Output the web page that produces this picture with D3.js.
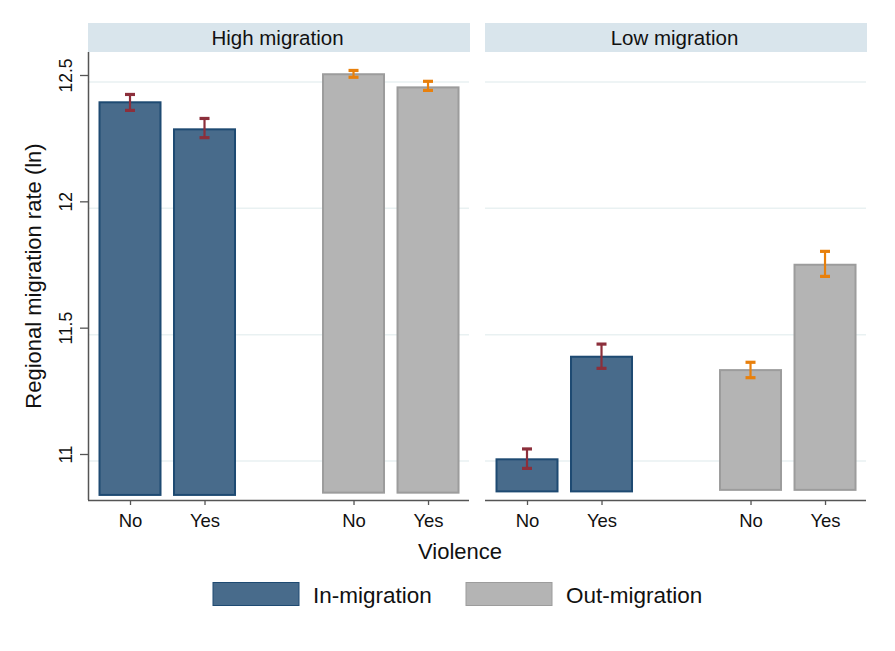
<!DOCTYPE html>
<html>
<head>
<meta charset="utf-8">
<script src="https://cdn.jsdelivr.net/npm/d3@7"></script>
<style>
  html, body { margin: 0; padding: 0; background: #ffffff; }
  svg { display: block; font-family: "Liberation Sans", Arial, Helvetica, sans-serif; }
</style>
</head>
<body>
<svg id="chart" width="895" height="651"></svg>
<script>
// Regional migration rate (ln) by violence, split by migration regime.
const panels = ["High migration", "Low migration"];
const violence = ["No", "Yes"];
const seriesNames = ["In-migration", "Out-migration"];

// Means and 95% CI bounds, ordered [High/No, High/Yes, Low/No, Low/Yes]
const inMean  = [12.392, 12.285, 10.979, 11.385];
const inLo    = [12.360, 12.252, 10.943, 11.339];
const inHi    = [12.423, 12.328, 11.020, 11.435];
const outMean = [12.503, 12.451, 11.332, 11.749];
const outLo   = [12.491, 12.439, 11.302, 11.703];
const outHi   = [12.518, 12.475, 11.363, 11.802];

// Bar baselines per panel [High, Low]
const inBase  = [10.838, 10.852];
const outBase = [10.847, 10.858];

const yTicks = [11, 11.5, 12, 12.5];
const yTickLabels = ["11", "11.5", "12", "12.5"];
const xAxisTitle = "Violence";
const yAxisTitle = "Regional migration rate (ln)";

// ---- layout ----
const svg = d3.select("#chart");
const panelX = [[88, 469], [485, 866]];
const plotTop = 52, plotBottom = 500;
const stripTop = 23, stripBottom = 52;
const barWidth = 61;
const gridShift = 7;

const colors = {
  inFill: "#486b8b", inStroke: "#1e4a72", inErr: "#8c2f3b",
  outFill: "#b4b4b4", outStroke: "#9c9c9c", outErr: "#e8800c",
  strip: "#d9e5ec", grid: "#e9f1f2", axis: "#555555", text: "#111111"
};

const y = d3.scaleLinear().domain([11, 12.5]).range([454, 75]);

// category positions on each panel: In No, In Yes, gap, Out No, Out Yes
const slotPos = { in: [1, 2], out: [4, 5] };

panels.forEach((name, p) => {
  const [x0, x1] = panelX[p];
  const x = d3.scaleLinear().domain([0.4362, 5.55]).range([x0, x1]);
  const g = svg.append("g");

  // strip header
  g.append("rect")
    .attr("x", x0).attr("y", stripTop)
    .attr("width", x1 - x0 + 1).attr("height", stripBottom - stripTop)
    .attr("fill", colors.strip);
  g.append("text")
    .attr("x", (x0 + x1) / 2 - 1).attr("y", 44.5)
    .attr("text-anchor", "middle")
    .attr("font-size", 20.5).attr("fill", colors.text)
    .text(name);

  // gridlines
  g.append("g").selectAll("line").data(yTicks).join("line")
    .attr("x1", x0).attr("x2", x1)
    .attr("y1", d => y(d) + gridShift).attr("y2", d => y(d) + gridShift)
    .attr("stroke", colors.grid).attr("stroke-width", 1.5);

  const drawSeries = (key, means, lo, hi, base, fill, stroke, errColor) => {
    const idx = [p * 2, p * 2 + 1];
    const rows = idx.map((i, k) => ({ pos: slotPos[key][k], m: means[i], lo: lo[i], hi: hi[i] }));
    g.append("g").selectAll("rect").data(rows).join("rect")
      .attr("x", d => x(d.pos) - barWidth / 2)
      .attr("y", d => y(d.m))
      .attr("width", barWidth)
      .attr("height", d => y(base[p]) - y(d.m))
      .attr("fill", fill).attr("stroke", stroke).attr("stroke-width", 2);
    const eb = g.append("g").selectAll("g").data(rows).join("g")
      .attr("stroke", errColor);
    eb.append("line")
      .attr("x1", d => x(d.pos)).attr("x2", d => x(d.pos))
      .attr("y1", d => y(d.hi)).attr("y2", d => y(d.lo))
      .attr("stroke-width", 2.2);
    eb.append("line")
      .attr("x1", d => x(d.pos) - 5).attr("x2", d => x(d.pos) + 5)
      .attr("y1", d => y(d.hi)).attr("y2", d => y(d.hi))
      .attr("stroke-width", 3.2);
    eb.append("line")
      .attr("x1", d => x(d.pos) - 5).attr("x2", d => x(d.pos) + 5)
      .attr("y1", d => y(d.lo)).attr("y2", d => y(d.lo))
      .attr("stroke-width", 3.2);
  };
  drawSeries("in", inMean, inLo, inHi, inBase, colors.inFill, colors.inStroke, colors.inErr);
  drawSeries("out", outMean, outLo, outHi, outBase, colors.outFill, colors.outStroke, colors.outErr);

  // x axis
  const xAxis = d3.axisBottom(x)
    .tickValues([...slotPos.in, ...slotPos.out])
    .tickFormat(d => violence[(d - 1) % 3 === 0 ? 0 : 1])
    .tickSize(5).tickPadding(9);
  const ax = g.append("g").attr("transform", `translate(0,${plotBottom})`).call(xAxis);
  ax.select(".domain").attr("stroke", colors.axis).attr("stroke-width", 1.5)
    .attr("d", `M${x0},0.5H${x1}`);
  ax.selectAll(".tick line").attr("stroke", colors.axis).attr("stroke-width", 1.3);
  ax.selectAll(".tick text").attr("font-size", 18.5).attr("fill", colors.text)
    .attr("font-family", "Liberation Sans, Arial, sans-serif");

  // y axis on the first panel only
  if (p === 0) {
    const yAxis = d3.axisLeft(y).tickValues(yTicks)
      .tickFormat((d, i) => yTickLabels[i]).tickSize(8).tickPadding(0);
    const ay = g.append("g").attr("transform", `translate(${x0},0)`).call(yAxis);
    ay.select(".domain").attr("stroke", colors.axis).attr("stroke-width", 1.5)
      .attr("d", `M0.5,${plotTop}V${plotBottom}`);
    ay.selectAll(".tick line").attr("stroke", colors.axis).attr("stroke-width", 1.3);
    ay.selectAll(".tick text")
      .attr("font-size", 17.5).attr("fill", colors.text)
      .attr("font-family", "Liberation Sans, Arial, sans-serif")
      .attr("text-anchor", "middle").attr("dy", null)
      .attr("transform", "translate(-16.5,0) rotate(-90)")
      .attr("x", 0).attr("y", 0);
  }
});

// axis titles
svg.append("text")
  .attr("x", 460).attr("y", 559)
  .attr("text-anchor", "middle").attr("font-size", 22).attr("fill", colors.text)
  .text(xAxisTitle);
svg.append("text")
  .attr("transform", "translate(41,276) rotate(-90)")
  .attr("text-anchor", "middle").attr("font-size", 22).attr("fill", colors.text)
  .text(yAxisTitle);

// legend
const legendItems = [
  { label: seriesNames[0], fill: colors.inFill, stroke: colors.inStroke, x: 213 },
  { label: seriesNames[1], fill: colors.outFill, stroke: colors.outStroke, x: 466 }
];
const lg = svg.append("g").selectAll("g").data(legendItems).join("g");
lg.append("rect")
  .attr("x", d => d.x).attr("y", 582.5)
  .attr("width", 86).attr("height", 23)
  .attr("fill", d => d.fill).attr("stroke", d => d.stroke).attr("stroke-width", 1);
lg.append("text")
  .attr("x", d => d.x + 100).attr("y", 603)
  .attr("font-size", 22.5).attr("fill", colors.text)
  .text(d => d.label);
</script>
</body>
</html>
